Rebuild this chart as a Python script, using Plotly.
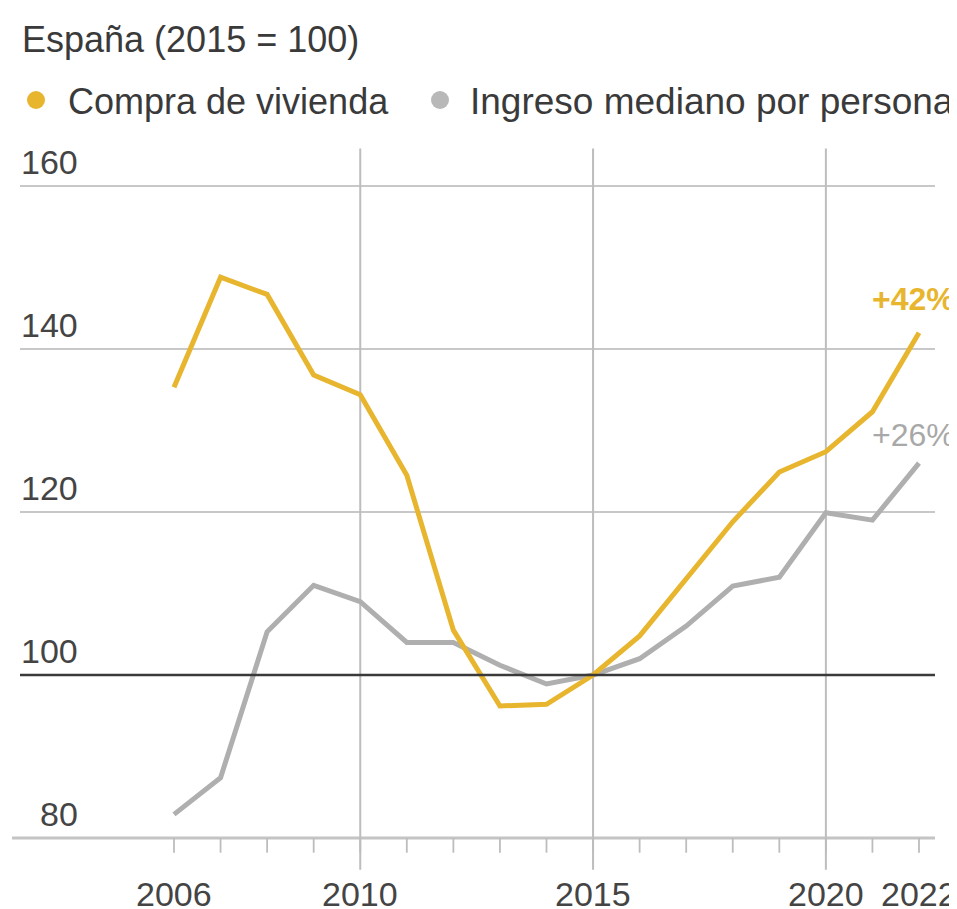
import plotly.graph_objects as go

years = list(range(2006, 2023))
compra = [135.3, 148.8, 146.7, 136.8, 134.4, 124.5, 105.5, 96.2, 96.4, 100.0,
          104.8, 111.7, 118.8, 124.9, 127.4, 132.3, 142.0]
ingreso = [82.9, 87.4, 105.3, 111.0, 109.0, 104.0, 104.0, 101.2, 98.9, 100.0,
           102.0, 106.0, 110.9, 112.0, 119.9, 119.0, 126.0]
y_ticks = [80, 100, 120, 140, 160]
x_labels = [2006, 2010, 2015, 2020, 2022]
x_grid = [2010, 2015, 2020]

YELLOW = "#E8B52E"
GRAY = "#AFAFAF"
TEXT = "#3a3a3a"
FONT = "Liberation Sans, Arial, sans-serif"

# page has an 8px body margin; figure offset by it
OFF = 8
W, H = 949, 901
T = 140
XR = [2002.435, 2022.816]
YR = [71.29, 164.66]


def px(xp):
    return (xp - OFF) / W


def py(yp):
    return (H + OFF - yp) / (H - T)


fig = go.Figure()
fig.add_trace(go.Scatter(x=years, y=ingreso, mode="lines",
                         line=dict(color=GRAY, width=5), showlegend=False,
                         hoverinfo="skip"))
fig.add_trace(go.Scatter(x=years, y=compra, mode="lines",
                         line=dict(color=YELLOW, width=5), showlegend=False,
                         hoverinfo="skip"))

shapes = []
for v in y_ticks:
    if v == 80:
        shapes.append(dict(type="line", xref="paper", yref="y", x0=px(12), x1=px(935),
                           y0=v, y1=v, line=dict(color="#C4C4C4", width=3), layer="below"))
    elif v == 100:
        shapes.append(dict(type="line", xref="paper", yref="y", x0=px(20), x1=px(935),
                           y0=v, y1=v, line=dict(color="#3a3a3a", width=2.5), layer="above"))
    else:
        shapes.append(dict(type="line", xref="paper", yref="y", x0=px(20), x1=px(935),
                           y0=v, y1=v, line=dict(color="#C8C8C8", width=2), layer="below"))
for yr in x_grid:
    shapes.append(dict(type="line", xref="x", yref="y", x0=yr, x1=yr, y0=76.1, y1=164.6,
                       line=dict(color="#BDBDBD", width=2), layer="below"))
for yr in years:
    shapes.append(dict(type="line", xref="x", yref="y", x0=yr, x1=yr, y0=80, y1=78.2,
                       line=dict(color="#BDBDBD", width=1.8), layer="below"))
# legend dots
shapes.append(dict(type="circle", xref="paper", yref="paper",
                   x0=px(27), x1=px(45), y0=py(109), y1=py(91),
                   fillcolor=YELLOW, line=dict(width=0)))
shapes.append(dict(type="circle", xref="paper", yref="paper",
                   x0=px(431), x1=px(449), y0=py(109), y1=py(91),
                   fillcolor="#B8B8B8", line=dict(width=0)))

annotations = []
for v in y_ticks:
    annotations.append(dict(xref="paper", yref="y", x=px(80), y=v, text=str(v),
                            xanchor="right", yanchor="middle", yshift=24, showarrow=False,
                            font=dict(family=FONT, size=34, color="#444444")))
for yr in x_labels:
    annotations.append(dict(xref="x", yref="y", x=yr, y=80, text=str(yr),
                            xanchor="center", yanchor="middle", yshift=-56, showarrow=False,
                            font=dict(family=FONT, size=34, color="#444444")))
annotations.append(dict(xref="paper", yref="paper", x=px(20), y=py(40),
                        text="España (2015 = 100)", xanchor="left", yanchor="middle",
                        showarrow=False, font=dict(family=FONT, size=36, color=TEXT)))
annotations.append(dict(xref="paper", yref="paper", x=px(66), y=py(101),
                        text="Compra de vivienda", xanchor="left", yanchor="middle",
                        showarrow=False, font=dict(family=FONT, size=36, color=TEXT)))
annotations.append(dict(xref="paper", yref="paper", x=px(468), y=py(101),
                        text="Ingreso mediano por persona", xanchor="left", yanchor="middle",
                        showarrow=False, font=dict(family=FONT, size=37, color=TEXT)))
annotations.append(dict(xref="paper", yref="y", x=px(870), y=compra[-1], text="<b>+42%</b>",
                        xanchor="left", yanchor="middle", yshift=34, showarrow=False,
                        font=dict(family=FONT, size=32, color=YELLOW)))
annotations.append(dict(xref="paper", yref="y", x=px(870), y=ingreso[-1], text="+26%",
                        xanchor="left", yanchor="middle", yshift=28, showarrow=False,
                        font=dict(family=FONT, size=32, color="#A8A8A8")))

fig.update_layout(
    width=W, height=H,
    margin=dict(l=0, r=0, t=T, b=0),
    paper_bgcolor="white", plot_bgcolor="white",
    xaxis=dict(range=XR, visible=False, fixedrange=True),
    yaxis=dict(range=YR, visible=False, fixedrange=True),
    shapes=shapes, annotations=annotations,
    showlegend=False,
)

fig.write_html("out.html")
